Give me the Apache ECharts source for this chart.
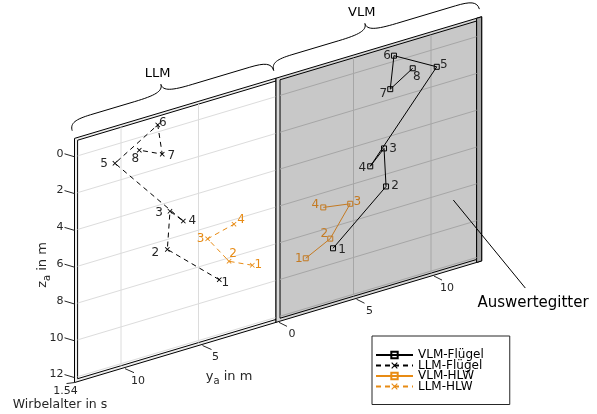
<!DOCTYPE html>
<html>
<head>
<meta charset="utf-8">
<script src="https://cdn.jsdelivr.net/npm/echarts@6/dist/echarts.min.js"></script>
<style>html,body{margin:0;padding:0;background:#fff}#chart{width:597px;height:414px}</style>
</head>
<body>
<div id="chart"></div>
<script>
// Wirbelpositionen im Auswertegitter (y_a, z_a in m), Wirbelalter 1.54 s
const vlmWingY = [3.68, 7.10, 6.97, 6.08, 10.37, 7.61, 7.37, 8.82];
const vlmWingZ = [9.17, 6.67, 4.57, 5.32, 0.99, -0.31, 1.45, 0.68];
const llmWingY = [3.66, 7.01, 6.84, 5.98, 10.39, 7.63, 7.34, 8.82];
const llmWingZ = [9.03, 6.54, 4.51, 5.26, 1.01, -0.38, 1.28, 0.69];
const vlmHlwY = [1.92, 3.50, 4.79, 3.05];
const vlmHlwZ = [9.27, 8.60, 7.03, 6.79];
const llmHlwY = [1.53, 3.03, 4.41, 2.71];
const llmHlwZ = [8.78, 8.19, 6.62, 6.25];

const zTicks = [0, 2, 4, 6, 8, 10, 12];
const yTicksLLM = [10, 5];
const yTicksVLM = [0, 5, 10];
const ageLabel = '1.54';

// label offsets (px) for the vortex numbers
const vlmWingLab = [[9,2],[9,-1],[9,0],[-8,2],[7,-2],[-7,0],[-7,5],[4,9]];
const llmWingLab = [[6,3],[-12,3],[-11,2],[9,0],[-11,1],[5,-2],[9,2],[-4,9]];
const vlmHlwLab = [[-7,1],[-6,-5],[7,-2],[-8,-3]];
const llmHlwLab = [[6,0],[4,-7],[-7,0],[7,-4]];

const F = 'DejaVu Sans';
const TXT = '#262626';
const ORANGE = '#E88B14';
const ORANGE_DK = '#C47A22';

// oblique view of the evaluation plane: screen = origin + y*ey + z*ez
const O = [276, 96.6], EY = [15.5, -4.63], EZ = [0, 18.4];
function proj(side, y, z) {
  const s = side * y;
  return [O[0] + EY[0] * s + EZ[0] * z, O[1] + EY[1] * s + EZ[1] * z];
}

function braceElems(A, B, tipFrac, label) {
  const dx = B[0] - A[0], dy = B[1] - A[1], L = Math.hypot(dx, dy);
  const d = [dx / L, dy / L], n = [d[1], -d[0]];
  const P = (u, v) => (A[0] + d[0] * u + n[0] * v).toFixed(1) + ' ' + (A[1] + d[1] * u + n[1] * v).toFixed(1);
  const e = 8, h1 = 18, h2 = 27, q = 22, q2 = 30, t = L * tipFrac;
  const path = 'M' + P(0, e) +
    ' C' + P(0, e + (h1 - e) * 0.8) + ' ' + P(q * 0.3, h1) + ' ' + P(q, h1) +
    ' L' + P(t - q2, h1) +
    ' C' + P(t - q2 * 0.3, h1) + ' ' + P(t, h1 + (h2 - h1) * 0.2) + ' ' + P(t, h2) +
    ' C' + P(t, h1 + (h2 - h1) * 0.2) + ' ' + P(t + q2 * 0.3, h1) + ' ' + P(t + q2, h1) +
    ' L' + P(L - q, h1) +
    ' C' + P(L - q * 0.3, h1) + ' ' + P(L, e + (h1 - e) * 0.8) + ' ' + P(L, e);
  const tx = A[0] + d[0] * t + n[0] * (h2 + 11), ty = A[1] + d[1] * t + n[1] * (h2 + 11);
  return [
    { type: 'path', shape: { pathData: path }, style: { fill: 'none', stroke: '#000', lineWidth: 1 } },
    { type: 'text', x: tx, y: ty, style: { text: label, fill: '#000', font: '13px ' + F, align: 'center', verticalAlign: 'middle' } }
  ];
}

function renderPlane(params, api) {
  const c = (s, z) => api.coord(proj(1, s, z));
  const poly = (s0, s1, z0, z1, fill) => ({
    type: 'polygon',
    shape: { points: [c(s0, z0), c(s1, z0), c(s1, z1), c(s0, z1)] },
    style: { fill: fill, stroke: '#000', lineWidth: 1 }
  });
  const line = (p, q, stroke) => ({
    type: 'line', shape: { x1: p[0], y1: p[1], x2: q[0], y2: q[1] },
    style: { stroke: stroke, lineWidth: 1 }
  });
  const text = (x, y, str, align) => ({
    type: 'text', x: x, y: y,
    style: { text: str, fill: TXT, font: '11px ' + F, align: align || 'center', verticalAlign: 'middle' }
  });
  const zT = -0.85, zB = 12.11, zTo = -1.0, zBo = 12.27;
  const k = [];
  // LLM panel (white)
  k.push(poly(-13.0, 0, zTo, zBo, '#eeeeee'));
  k.push(poly(-12.8, 0, zT, zB, '#ffffff'));
  zTicks.forEach(z => k.push(line(c(-12.8, z), c(0, z), '#dcdcdc')));
  yTicksLLM.forEach(y => k.push(line(c(-y, zT), c(-y, zB), '#dcdcdc')));
  // VLM panel (grey)
  k.push(poly(0, 13.27, zTo, zBo, '#d6d6d6'));
  k.push(poly(12.94, 13.27, zTo, zBo, '#a4a4a4'));
  k.push(poly(0.26, 12.94, zT, zB, '#c8c8c8'));
  zTicks.forEach(z => k.push(line(c(0.26, z), c(12.94, z), '#a6a6a6')));
  yTicksVLM.filter(y => y > 0).forEach(y => k.push(line(c(y, zT), c(y, zB), '#a6a6a6')));
  // z ticks on the left edge
  zTicks.forEach(z => {
    const p = c(-13.0, z);
    k.push(line(p, [p[0] - 10, p[1] - 3], '#262626'));
    k.push(text(p[0] - 11, p[1] - 3, String(z), 'right'));
  });
  // y ticks along the bottom edge
  yTicksLLM.forEach(y => {
    const p = c(-y, zBo);
    k.push(line([p[0] + 4, p[1]], [p[0] + 13, p[1] + 4], '#262626'));
    k.push(text(p[0] + 17, p[1] + 12, String(y)));
  });
  yTicksVLM.forEach(y => {
    const p = c(y, zBo);
    k.push(line([p[0] + 3, p[1]], [p[0] + 11, p[1] + 4], '#262626'));
    k.push(text(p[0] + 16, p[1] + 12, String(y)));
  });
  // vortex age tick at the corner
  const pc = c(-13.0, zBo);
  k.push(line(pc, [pc[0] - 8, pc[1] + 1], '#262626'));
  k.push(text(pc[0] - 9, pc[1] + 9, ageLabel));
  // braces over the two methods
  braceElems(c(-13.0, zTo), c(0, zTo), 0.467, 'LLM').forEach(el => k.push(el));
  braceElems(c(0, zTo), c(13.27, zTo), 0.47, 'VLM').forEach(el => k.push(el));
  // pointer to the evaluation grid
  const pa = c(11.44, 8.5);
  k.push(line(pa, [pa[0] + 72, pa[1] + 88], '#000'));
  return { type: 'group', children: k };
}

const xMark = 'path://M0,1.2L1.2,0L5,3.8L8.8,0L10,1.2L6.2,5L10,8.8L8.8,10L5,6.2L1.2,10L0,8.8L3.8,5Z';

function vortexSeries(name, side, ys, zs, offs, opts) {
  return {
    type: 'line', name: name, z: 5,
    data: ys.map((y, i) => ({ value: proj(side, y, zs[i]), label: { offset: offs[i] } })),
    symbol: opts.symbol, symbolSize: opts.symbolSize,
    lineStyle: { color: opts.color, width: 1, type: opts.dash ? [5, 4] : 'solid' },
    itemStyle: opts.itemStyle,
    label: {
      show: true, position: 'inside', formatter: p => String(p.dataIndex + 1),
      color: opts.labelColor, fontSize: 12, fontFamily: F
    },
    emphasis: { disabled: true },
    animation: false
  };
}

const chart = echarts.init(document.getElementById('chart'));
chart.setOption({
  animation: false,
  grid: { left: 0, top: 0, width: 597, height: 414 },
  xAxis: { type: 'value', min: 0, max: 597, show: false },
  yAxis: { type: 'value', min: 0, max: 414, inverse: true, show: false },
  legend: {
    orient: 'vertical', left: 372, top: 336,
    itemWidth: 37, itemHeight: 8, itemGap: -1.5,
    padding: [13, 26, 12, 3],
    borderColor: '#262626', borderWidth: 1, backgroundColor: '#fff',
    textStyle: { fontSize: 12, fontFamily: F, color: '#000', lineHeight: 10 },
    data: [
      'VLM-Flügel', 'LLM-Flügel',
      { name: 'VLM-HLW', itemStyle: { borderColor: ORANGE }, lineStyle: { color: ORANGE } },
      'LLM-HLW'
    ]
  },
  graphic: [
    { type: 'text', x: 43, y: 265, rotation: Math.PI / 2,
      style: { text: '{m|z}{s|a}{m| in m}', align: 'center', verticalAlign: 'middle',
        rich: { m: { fontSize: 13, fontFamily: F, fill: TXT }, s: { fontSize: 10, fontFamily: F, fill: TXT, padding: [8, 0, 0, 0] } } } },
    { type: 'text', x: 229, y: 377,
      style: { text: '{m|y}{s|a}{m| in m}', align: 'center', verticalAlign: 'middle',
        rich: { m: { fontSize: 13, fontFamily: F, fill: TXT }, s: { fontSize: 10, fontFamily: F, fill: TXT, padding: [8, 0, 0, 0] } } } },
    { type: 'text', x: 60, y: 405, style: { text: 'Wirbelalter in s', fill: TXT, font: '12.5px ' + F, align: 'center', verticalAlign: 'middle' } },
    { type: 'text', x: 533, y: 303, style: { text: 'Auswertegitter', fill: '#000', font: '15px ' + F, align: 'center', verticalAlign: 'middle' } }
  ],
  series: [
    { type: 'custom', name: 'plane', z: 1, silent: true, data: [[0, 0]], renderItem: renderPlane, animation: false },
    vortexSeries('VLM-Flügel', 1, vlmWingY, vlmWingZ, vlmWingLab, {
      symbol: 'rect', symbolSize: 5, color: '#000', labelColor: TXT,
      itemStyle: { color: 'rgba(0,0,0,0)', borderColor: '#000', borderWidth: 1 } }),
    vortexSeries('LLM-Flügel', -1, llmWingY, llmWingZ, llmWingLab, {
      symbol: xMark, symbolSize: 5, color: '#000', dash: true, labelColor: TXT,
      itemStyle: { color: '#000' } }),
    vortexSeries('VLM-HLW', 1, vlmHlwY, vlmHlwZ, vlmHlwLab, {
      symbol: 'rect', symbolSize: 5, color: ORANGE_DK, labelColor: ORANGE_DK,
      itemStyle: { color: 'rgba(0,0,0,0)', borderColor: ORANGE_DK, borderWidth: 1 } }),
    vortexSeries('LLM-HLW', -1, llmHlwY, llmHlwZ, llmHlwLab, {
      symbol: xMark, symbolSize: 5, color: ORANGE, dash: true, labelColor: ORANGE,
      itemStyle: { color: ORANGE } })
  ]
});
</script>
</body>
</html>
